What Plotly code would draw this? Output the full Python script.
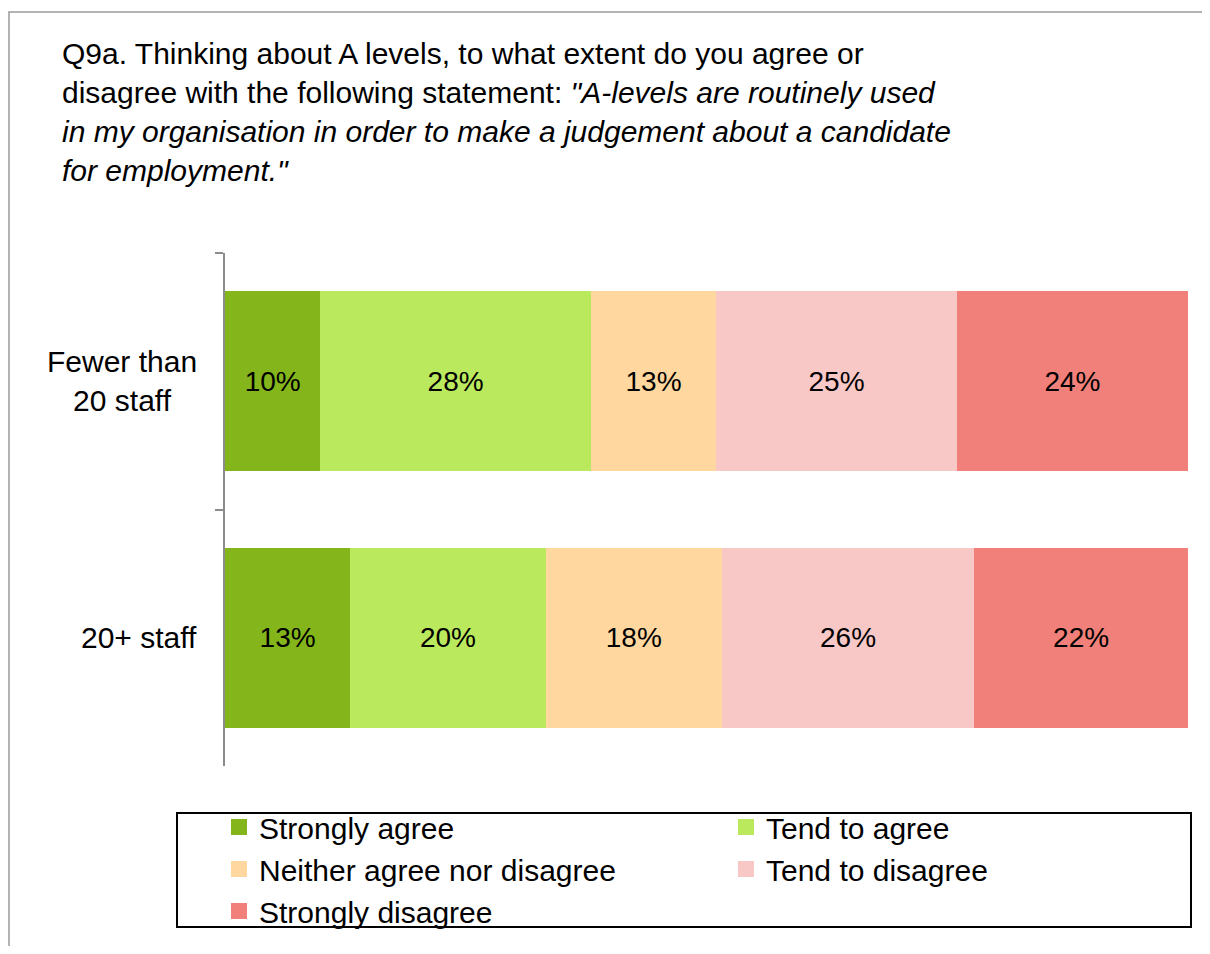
import plotly.graph_objects as go

groups = ["Fewer than<br>20 staff", "20+ staff"]
responses = ["Strongly agree", "Tend to agree", "Neither agree nor disagree",
             "Tend to disagree", "Strongly disagree"]
# percentage per response, one list per group
fewer_than_20 = [9.9, 28.1, 13.0, 25.0, 24.0]
twenty_plus = [13.0, 20.3, 18.3, 26.2, 22.2]
colours = ["#84B61B", "#BBE95D", "#FFD79F", "#F8C8C7", "#F08079"]
legend_column = ["legend", "legend2", "legend", "legend2", "legend"]

title_text = ("Q9a. Thinking about A levels, to what extent do you agree or<br>"
              "disagree with the following statement: <i>\"A-levels are routinely used</i><br>"
              "<i>in my organisation in order to make a judgement about a candidate</i><br>"
              "<i>for employment.\"</i>")

FONT = "Liberation Sans, Arial, sans-serif"
PAGE = 8  # default body margin of the html page
W, H = 1210 - PAGE, 954 - 2 * PAGE
L, R, T, B = 225 - PAGE, 22, 253 - PAGE, 180
pw, ph = W - L - R, H - T - B


def px_x(x):
    # screen pixel -> paper x
    return (x - PAGE - L) / pw


def px_y(y):
    # screen pixel -> paper y
    return (H - B - (y - PAGE)) / ph


fig = go.Figure()
for i, name in enumerate(responses):
    vals = [fewer_than_20[i], twenty_plus[i]]
    fig.add_trace(go.Bar(
        y=groups, x=vals, orientation="h", name=name,
        marker=dict(color=colours[i], line=dict(width=0)),
        text=[f"{round(v)}%" for v in vals],
        textposition="inside", insidetextanchor="middle",
        textfont=dict(size=28, color="black", family=FONT),
        showlegend=False, hoverinfo="skip",
    ))
    # legend swatch
    fig.add_trace(go.Scatter(
        x=[None], y=[None], mode="markers", name=name,
        legend=legend_column[i],
        marker=dict(symbol="square", size=16, color=colours[i]),
    ))

for g in groups:
    fig.add_annotation(x=0, y=g, xref="paper", yref="y", text=g,
                       showarrow=False, xanchor="right", align="center",
                       xshift=-26, font=dict(size=30, color="black", family=FONT))

# outer frame and legend box
fig.add_shape(type="rect", xref="paper", yref="paper",
              x0=px_x(9), x1=px_x(1300), y0=px_y(1100), y1=px_y(12),
              line=dict(color="#9a9a9a", width=1.5))
fig.add_shape(type="rect", xref="paper", yref="paper",
              x0=px_x(177), x1=px_x(1191), y0=px_y(927), y1=px_y(813),
              line=dict(color="black", width=2))

legend_style = dict(orientation="v", xanchor="left", yanchor="top",
                    y=px_y(801), traceorder="normal",
                    font=dict(size=30, family=FONT, color="black"),
                    borderwidth=0, bgcolor="rgba(0,0,0,0)",
                    itemclick=False, itemdoubleclick=False)

fig.update_layout(
    width=W, height=H,
    margin=dict(l=L, r=R, t=T, b=B, autoexpand=False),
    barmode="stack", bargap=0.3,
    paper_bgcolor="white", plot_bgcolor="white",
    font=dict(family=FONT, color="black", size=30),
    title=dict(text=title_text, xref="container", yref="container",
               x=(62 - PAGE) / W, xanchor="left", y=1 - 56 / H, yanchor="top",
               font=dict(size=30, family=FONT, color="black")),
    xaxis=dict(range=[0, 100], visible=False, fixedrange=True),
    yaxis=dict(type="category", range=[1.5, -0.5], showticklabels=False,
               showline=True, linecolor="#8c8c8c", linewidth=1.5,
               ticks="outside", tickson="boundaries", ticklen=8,
               tickcolor="#8c8c8c", tickwidth=1.5, showgrid=False,
               zeroline=False),
    legend=dict(x=px_x(219), **legend_style),
    legend2=dict(x=px_x(726), **legend_style),
)

fig.write_html("out.html")
